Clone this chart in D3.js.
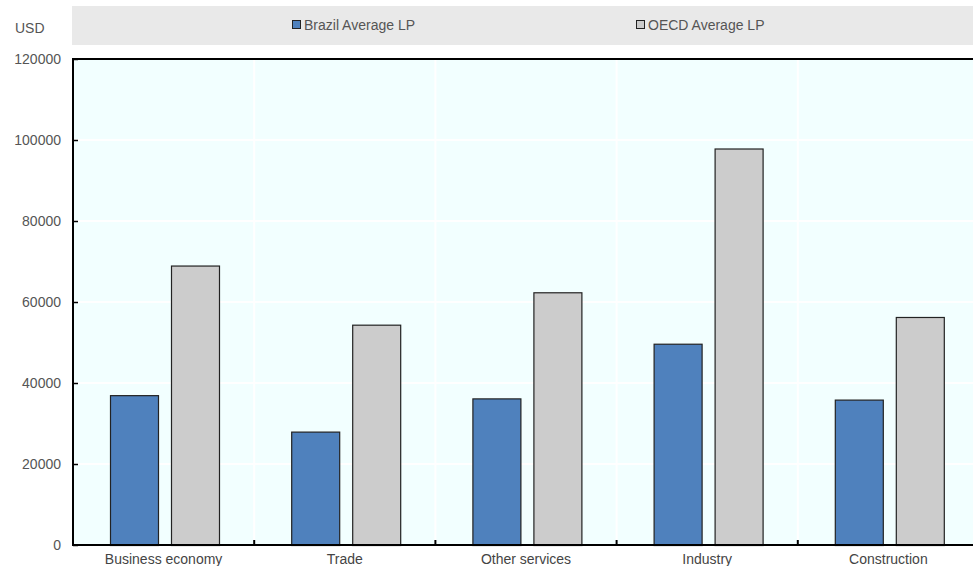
<!DOCTYPE html>
<html>
<head>
<meta charset="utf-8">
<script src="https://cdn.jsdelivr.net/npm/d3@7/dist/d3.min.js"></script>
<style>
  html, body { margin: 0; padding: 0; background: #ffffff; }
  svg { display: block; font-family: "Liberation Sans", Arial, sans-serif; }
</style>
</head>
<body>
<svg id="chart" width="973" height="566"></svg>
<script>
// Average labour productivity by sector, USD
const categories = ["Business economy", "Trade", "Other services", "Industry", "Construction"];
const seriesNames = ["Brazil Average LP", "OECD Average LP"];
const brazilValues = [37000, 28000, 36200, 49700, 35900];
const oecdValues = [69000, 54400, 62400, 97900, 56300];
const yTicks = [0, 20000, 40000, 60000, 80000, 100000, 120000];
const seriesColors = ["#4f81bd", "#cccccc"];

const svg = d3.select("#chart");
const W = 973;
const plot = { left: 73, top: 59, bottom: 545, right: 979 };

// Legend strip
svg.append("rect")
  .attr("x", 72).attr("y", 6).attr("width", W - 72).attr("height", 39)
  .attr("fill", "#e9e9e9");

svg.append("text")
  .attr("x", 15).attr("y", 33)
  .attr("font-size", 14).attr("fill", "#555")
  .text("USD");

const legendX = [292, 636];
seriesNames.forEach((name, i) => {
  const g = svg.append("g").attr("transform", `translate(${legendX[i]},20)`);
  g.append("rect")
    .attr("x", 0.5).attr("y", 0.5).attr("width", 8).attr("height", 8)
    .attr("fill", seriesColors[i]).attr("stroke", "#222").attr("stroke-width", 1);
  g.append("text")
    .attr("x", 12).attr("y", 9.5)
    .attr("font-size", 14).attr("fill", "#555")
    .text(name);
});

// Scales
const x = d3.scaleBand().domain(categories).range([plot.left, plot.right]).padding(0);
const y = d3.scaleLinear().domain([0, 120000]).range([plot.bottom, plot.top]);
const inner = d3.scaleBand().domain(seriesNames).range([37, 146]).paddingInner(13 / 61);

// Plot background
svg.append("rect")
  .attr("x", plot.left).attr("y", plot.top)
  .attr("width", plot.right - plot.left).attr("height", plot.bottom - plot.top)
  .attr("fill", "#f2ffff");

// Gridlines
svg.append("g").selectAll("line.h")
  .data(yTicks.slice(1, -1)).join("line")
  .attr("x1", plot.left).attr("x2", plot.right)
  .attr("y1", d => y(d)).attr("y2", d => y(d))
  .attr("stroke", "#ffffff").attr("stroke-width", 2);

svg.append("g").selectAll("line.v")
  .data(categories.slice(1)).join("line")
  .attr("x1", d => x(d)).attr("x2", d => x(d))
  .attr("y1", plot.top).attr("y2", plot.bottom)
  .attr("stroke", "#ffffff").attr("stroke-width", 2);

// Bars
const rows = categories.map((c, i) => ({ cat: c, vals: [brazilValues[i], oecdValues[i]] }));
const groups = svg.append("g").selectAll("g")
  .data(rows).join("g")
  .attr("transform", d => `translate(${x(d.cat)},0)`);

groups.selectAll("rect")
  .data(d => d.vals.map((v, i) => ({ name: seriesNames[i], v, i })))
  .join("rect")
  .attr("x", d => inner(d.name) + 0.5)
  .attr("width", inner.bandwidth())
  .attr("y", d => y(d.v) + 0.5)
  .attr("height", d => y(0) - y(d.v))
  .attr("fill", d => seriesColors[d.i])
  .attr("stroke", "#222").attr("stroke-width", 1.2);

// Frame: top border
svg.append("line")
  .attr("x1", plot.left).attr("x2", plot.right)
  .attr("y1", plot.top).attr("y2", plot.top)
  .attr("stroke", "#000").attr("stroke-width", 2);

// Y axis
const yAxis = d3.axisRight(y).tickValues(yTicks).tickSize(5).tickFormat("");
const yg = svg.append("g").attr("transform", `translate(${plot.left},0)`).call(yAxis);
yg.select(".domain").remove();
yg.selectAll(".tick line").attr("stroke", "#000").attr("stroke-width", 1.5);
svg.append("line")
  .attr("x1", plot.left).attr("x2", plot.left)
  .attr("y1", plot.top - 1).attr("y2", plot.bottom + 1)
  .attr("stroke", "#000").attr("stroke-width", 2);

svg.append("g").selectAll("text")
  .data(yTicks).join("text")
  .attr("x", 61).attr("y", d => y(d) + 5)
  .attr("text-anchor", "end")
  .attr("font-size", 14).attr("fill", "#555")
  .text(d => d3.format("d")(d));

// X axis
const xg = svg.append("g").attr("transform", `translate(0,${plot.bottom})`);
xg.append("line")
  .attr("x1", plot.left - 1).attr("x2", plot.right)
  .attr("stroke", "#000").attr("stroke-width", 2);
xg.selectAll("line.tick")
  .data(categories.slice(1)).join("line")
  .attr("class", "tick")
  .attr("x1", d => x(d)).attr("x2", d => x(d))
  .attr("y1", 0).attr("y2", -5)
  .attr("stroke", "#000").attr("stroke-width", 2);
xg.selectAll("text")
  .data(categories).join("text")
  .attr("x", d => x(d) + x.bandwidth() / 2)
  .attr("y", 18.5)
  .attr("text-anchor", "middle")
  .attr("font-size", 14).attr("fill", "#444")
  .text(d => d);
</script>
</body>
</html>
